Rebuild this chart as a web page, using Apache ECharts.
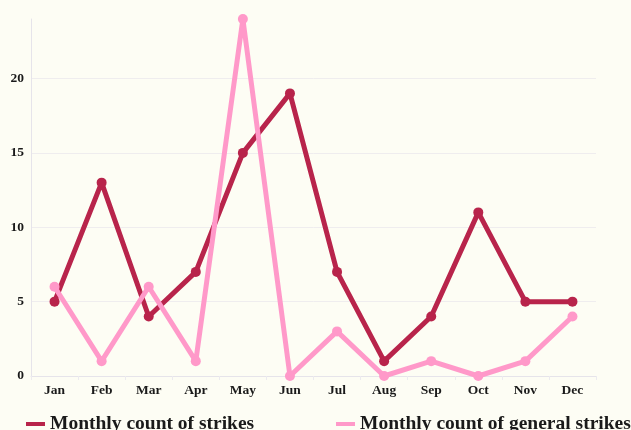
<!DOCTYPE html>
<html>
<head>
<meta charset="utf-8">
<script src="https://cdn.jsdelivr.net/npm/echarts@6/dist/echarts.min.js"></script>
<style>
  html, body { margin: 0; padding: 0; background: #fdfdf4; }
  #chart { width: 631px; height: 430px; }
</style>
</head>
<body>
<div id="chart"></div>
<script>
// data
const months = ['Jan', 'Feb', 'Mar', 'Apr', 'May', 'Jun', 'Jul', 'Aug', 'Sep', 'Oct', 'Nov', 'Dec'];
const strikes = [5, 13, 4, 7, 15, 19, 7, 1, 4, 11, 5, 5];
const generalStrikes = [6, 1, 6, 1, 24, 0, 3, 0, 1, 0, 1, 4];

const serif = '"Liberation Serif", "DejaVu Serif", serif';
const darkRed = '#b8244b';
const pink = '#ff99c9';

let chart = echarts.init(document.getElementById('chart'));

chart.setOption({
  backgroundColor: '#fdfdf4',
  animation: false,
  textStyle: { fontFamily: serif },
  grid: { left: 31, right: 35, top: 19, bottom: 54 },
  legend: [
    {
      data: ['Monthly count of strikes'],
      left: 21, top: 409,
      icon: 'rect', itemWidth: 19, itemHeight: 4, itemGap: 10,
      textStyle: { fontFamily: serif, fontSize: 19.5, fontWeight: 'bold', color: '#1a1a1a' }
    },
    {
      data: ['Monthly count of general strikes'],
      left: 331, top: 409,
      icon: 'rect', itemWidth: 19, itemHeight: 4, itemGap: 8,
      textStyle: { fontFamily: serif, fontSize: 19.5, fontWeight: 'bold', color: '#1a1a1a' }
    }
  ],
  xAxis: {
    type: 'category',
    data: months,
    boundaryGap: true,
    axisLine: { lineStyle: { color: '#e6e4ea' } },
    axisTick: { show: true, lineStyle: { color: '#ecebef' }, length: 4 },
    axisLabel: { color: '#1a1a1a', fontSize: 13.5, fontWeight: 'bold', fontFamily: serif, margin: 8 }
  },
  yAxis: {
    type: 'value',
    min: 0, max: 24, interval: 5,
    axisLine: { show: true, lineStyle: { color: '#e6e4ea' } },
    axisTick: { show: false },
    axisLabel: { color: '#1a1a1a', fontSize: 13.5, fontWeight: 'bold', fontFamily: serif, margin: 7, showMaxLabel: false },
    splitLine: { showMaxLine: false, lineStyle: { color: '#efedee' } }
  },
  series: [
    {
      name: 'Monthly count of strikes',
      type: 'line',
      data: strikes,
      color: darkRed,
      symbol: 'circle', symbolSize: 10,
      lineStyle: { width: 5, color: darkRed },
      itemStyle: { color: darkRed }
    },
    {
      name: 'Monthly count of general strikes',
      type: 'line',
      data: generalStrikes,
      color: pink,
      symbol: 'circle', symbolSize: 10,
      lineStyle: { width: 5, color: pink },
      itemStyle: { color: pink }
    }
  ]
});
</script>
</body>
</html>
